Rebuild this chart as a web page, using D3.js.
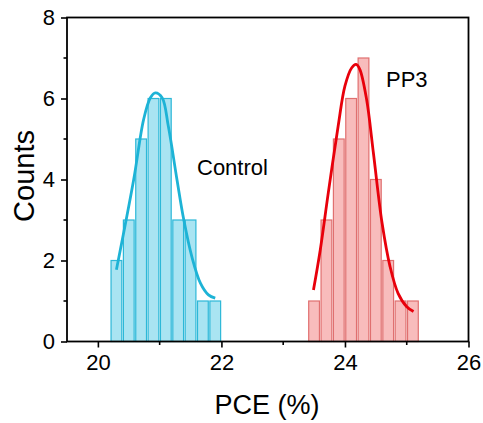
<!DOCTYPE html>
<html>
<head>
<meta charset="utf-8">
<script src="https://cdn.jsdelivr.net/npm/d3@7/dist/d3.min.js"></script>
<style>
  html, body { margin: 0; padding: 0; background: #fff; }
  svg { display: block; font-family: "Liberation Sans", Arial, sans-serif; }
</style>
</head>
<body>
<svg id="chart" width="483" height="423"></svg>
<script>
// Histogram bin edges (PCE %, bin width 0.2) and counts
const binWidth = 0.2;
const controlStart = 20.2;
const controlCounts = [2, 3, 5, 6, 6, 3, 3, 1, 1];
const pp3Start = 23.4;
const pp3Counts = [1, 3, 5, 6, 7, 4, 2, 1, 1];

// Distribution fit curves [PCE, counts]
const controlFit = [
  [20.30, 1.77], [20.58, 4.00], [20.74, 5.48], [20.85, 6.02], [20.93, 6.14],
  [21.04, 6.02], [21.14, 5.32], [21.28, 4.00], [21.39, 3.01], [21.52, 2.10],
  [21.66, 1.44], [21.79, 1.15], [21.90, 1.07]
];
const pp3Fit = [
  [23.49, 1.27], [23.60, 2.26], [23.73, 3.67], [23.89, 5.32], [24.00, 6.31],
  [24.11, 6.76], [24.18, 6.84], [24.24, 6.72], [24.35, 5.98], [24.46, 4.66],
  [24.60, 2.93], [24.73, 1.85], [24.86, 1.19], [25.00, 0.86], [25.11, 0.74]
];

const xMajor = [20, 22, 24, 26];
const xMinor = [21, 23, 25];
const yMajor = [0, 2, 4, 6, 8];
const yMinor = [1, 3, 5, 7];

const svg = d3.select("#chart");
const plotLeft = 67, plotRight = 468.5, plotTop = 17.5, plotBottom = 341.5;

const x = d3.scaleLinear().domain([19.5, 26]).range([plotLeft, plotRight]);
const y = d3.scaleLinear().domain([0, 8]).range([plotBottom, plotTop]);

function bins(start, counts) {
  return counts.map((c, i) => ({ x0: start + i * binWidth, x1: start + (i + 1) * binWidth, c }));
}

function drawBars(data, fill, stroke) {
  svg.append("g").selectAll("rect").data(data).join("rect")
    .attr("x", d => x(d.x0) + 0.8)
    .attr("y", d => y(d.c))
    .attr("width", d => x(d.x1) - x(d.x0) - 1.6)
    .attr("height", d => y(0) - y(d.c))
    .attr("fill", fill)
    .attr("stroke", stroke)
    .attr("stroke-width", 1.2);
}

drawBars(bins(controlStart, controlCounts), "#a9e4f2", "#2db8d8");
drawBars(bins(pp3Start, pp3Counts), "#f8bcbc", "#e07070");

const line = d3.line().x(d => x(d[0])).y(d => y(d[1])).curve(d3.curveCatmullRom.alpha(0.5));
svg.append("path").datum(controlFit).attr("d", line)
  .attr("fill", "none").attr("stroke", "#1db3d6").attr("stroke-width", 2.8);
svg.append("path").datum(pp3Fit).attr("d", line)
  .attr("fill", "none").attr("stroke", "#e8000b").attr("stroke-width", 2.8);

// Axes
const xAxis = d3.axisBottom(x).tickValues(xMajor).tickSize(6).tickPadding(7).tickFormat(d3.format("d"));
const yAxis = d3.axisLeft(y).tickValues(yMajor).tickSize(6).tickPadding(6).tickFormat(d3.format("d"));

const gx = svg.append("g").attr("transform", `translate(0,${plotBottom})`).call(xAxis);
const gy = svg.append("g").attr("transform", `translate(${plotLeft},0)`).call(yAxis);
[gx, gy].forEach(g => {
  g.select(".domain").remove();
  g.selectAll(".tick line").attr("stroke", "#000").attr("stroke-width", 1.6);
  g.selectAll(".tick text").attr("fill", "#000").style("font-size", "22px")
    .style("font-family", "Liberation Sans, Arial, sans-serif");
});

// Minor ticks
svg.append("g").selectAll("line").data(xMinor).join("line")
  .attr("x1", d => x(d)).attr("x2", d => x(d))
  .attr("y1", plotBottom).attr("y2", plotBottom + 3.5)
  .attr("stroke", "#000").attr("stroke-width", 1.6);
svg.append("g").selectAll("line").data(yMinor).join("line")
  .attr("y1", d => y(d)).attr("y2", d => y(d))
  .attr("x1", plotLeft).attr("x2", plotLeft - 3.5)
  .attr("stroke", "#000").attr("stroke-width", 1.6);

// Frame
svg.append("rect")
  .attr("x", plotLeft).attr("y", plotTop)
  .attr("width", plotRight - plotLeft).attr("height", plotBottom - plotTop)
  .attr("fill", "none").attr("stroke", "#000").attr("stroke-width", 1.8);

// Axis titles
svg.append("text")
  .attr("x", 267).attr("y", 414)
  .attr("text-anchor", "middle").style("font-size", "27px")
  .text("PCE (%)");
svg.append("text")
  .attr("transform", `translate(34,176) rotate(-90)`)
  .attr("text-anchor", "middle").style("font-size", "29px")
  .text("Counts");

// Series labels
svg.append("text").attr("x", 197).attr("y", 175).style("font-size", "22px").text("Control");
svg.append("text").attr("x", 386).attr("y", 87).style("font-size", "22px").text("PP3");
</script>
</body>
</html>
